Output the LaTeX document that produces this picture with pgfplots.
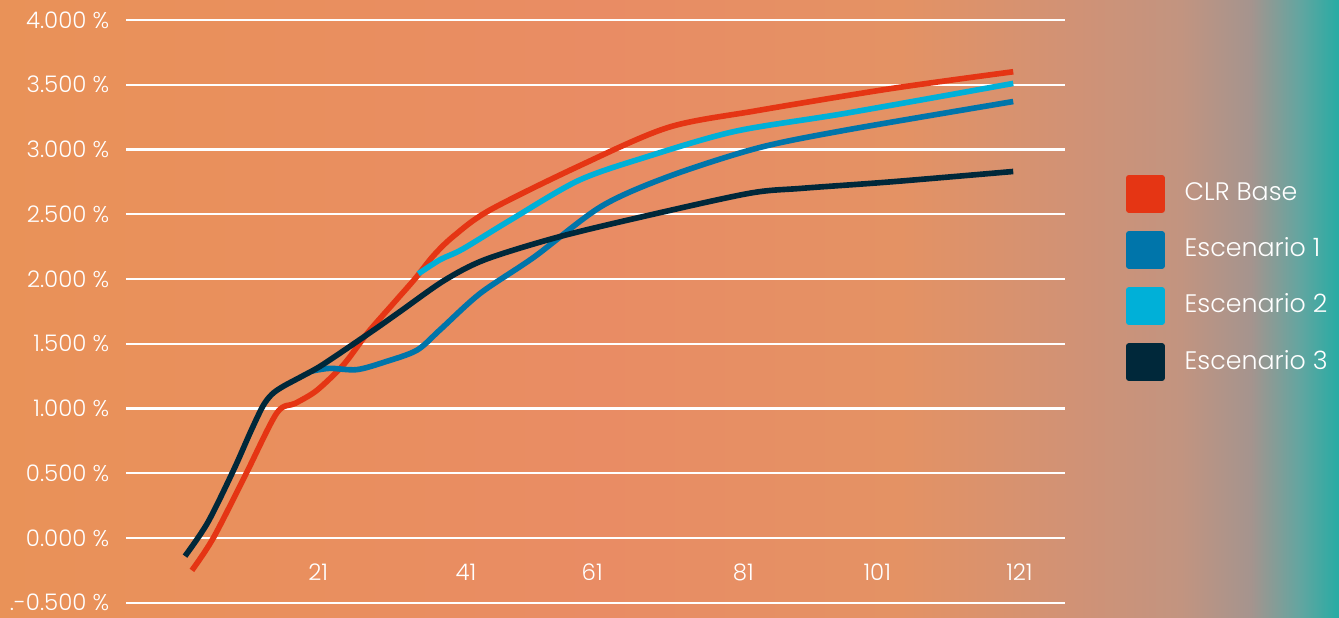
\documentclass[border=0pt]{standalone}
\usepackage{pgfplots}
\pgfplotsset{compat=1.18}
\usepackage{fontspec}
\setmainfont{Poppins}[UprightFont=* Light]

\definecolor{clrbase}{RGB}{229,53,20}
\definecolor{esc1}{RGB}{0,117,170}
\definecolor{esc2}{RGB}{0,176,216}
\definecolor{esc3}{RGB}{0,40,58}

\definecolor{bgA}{RGB}{233,146,88}
\definecolor{bgB}{RGB}{233,140,100}
\definecolor{bgC}{RGB}{228,146,100}
\definecolor{bgD}{RGB}{208,146,118}
\definecolor{bgE}{RGB}{194,148,128}
\definecolor{bgF}{RGB}{165,148,142}
\definecolor{bgG}{RGB}{100,165,160}
\definecolor{bgH}{RGB}{38,172,164}
\pgfdeclarehorizontalshading{bgshade}{100bp}{%
  color(0bp)=(bgA); color(25bp)=(bgA); color(47.4bp)=(bgB);
  color(58.6bp)=(bgC); color(65.3bp)=(bgD); color(69.1bp)=(bgE);
  color(71.7bp)=(bgF); color(73.5bp)=(bgG); color(75bp)=(bgH);
  color(100bp)=(bgH)}

\begin{document}
\begin{tikzpicture}
\useasboundingbox (0,0) rectangle (133.9mm,61.7mm);
\shade[shading=bgshade] (0,0) rectangle (133.9mm,61.7mm);
\begin{axis}[
  at={(12.6mm,0mm)}, anchor=south west,
  scale only axis, width=93.9mm, height=61.7mm,
  xmin=-7.55, xmax=128.5, ymin=-0.61, ymax=4.154,
  axis line style={draw=none},
  major tick length=0pt,
  ymajorgrids, grid style={white, line width=0.6pt},
  ytick={-0.5,0,0.5,1,1.5,2,2.5,3,3.5,4},
  yticklabels={.-0.500 \%,0.000 \%,0.500 \%,1.000 \%,1.500 \%,2.000 \%,2.500 \%,3.000 \%,3.500 \%,4.000 \%},
  xtick={20.3,41.7,60.0,81.9,101.3,121.9},
  xticklabels={21,41,61,81,101,121},
  tick label style={font=\fontsize{6.5}{7}\selectfont, text=white},
  yticklabel style={anchor=east, inner sep=0pt, xshift=-1.6mm},
  xticklabel style={anchor=center, inner sep=0pt, yshift=4.5mm},
  legend style={
    at={(rel axis cs:1.065,0.7164)}, anchor=north west,
    draw=none, fill=none, inner sep=0pt, outer sep=0pt,
    row sep=1.85mm, text=white,
    font=\fontsize{7.2}{8}\selectfont,
    nodes={inner sep=0pt},
    /tikz/every odd column/.append style={column sep=2.0mm}},
  legend cell align=left,
  legend image code/.code={\fill[#1] (0mm,-1.6mm) rectangle (3.3mm,1.6mm);},
  every axis plot/.append style={line width=1.6pt, smooth, tension=0.5, line join=round},
]
\addplot[clrbase] coordinates {
  (2,-0.25) (5.1,0.0) (9.7,0.48) (14.3,0.965) (17,1.04) (20.1,1.14)
  (24,1.34) (27.4,1.58) (31,1.80) (34.3,2.0) (37,2.18) (39.9,2.33)
  (45.1,2.53) (58.0,2.87) (71.0,3.17) (83.9,3.30) (103.3,3.47) (121,3.60)};
\addlegendentry{CLR Base}
\addplot[esc1] coordinates {
  (19.5,1.29) (22,1.31) (25.9,1.30) (30,1.36) (34.6,1.45) (38,1.61)
  (43.8,1.89) (51.6,2.17) (61.3,2.56) (71,2.79) (83.9,3.01) (96.8,3.15)
  (121,3.37)};
\addlegendentry{Escenario 1}
\addplot[esc2] coordinates {
  (34.8,2.04) (38.0,2.15) (41.2,2.23) (48.3,2.46) (58.0,2.76) (67.7,2.94)
  (80.7,3.14) (96.8,3.28) (121,3.51)};
\addlegendentry{Escenario 2}
\addplot[esc3] coordinates {
  (1,-0.14) (4.3,0.12) (8,0.52) (10.5,0.82) (12.3,1.02) (13.6,1.11) (15.2,1.17)
  (18,1.25) (21,1.34) (28.2,1.60) (32.2,1.75) (38.6,1.99) (44.5,2.15)
  (54.8,2.32) (66.4,2.47) (82.6,2.66) (90.4,2.70) (103.3,2.75) (121,2.83)};
\addlegendentry{Escenario 3}
\end{axis}
\end{tikzpicture}
\end{document}
